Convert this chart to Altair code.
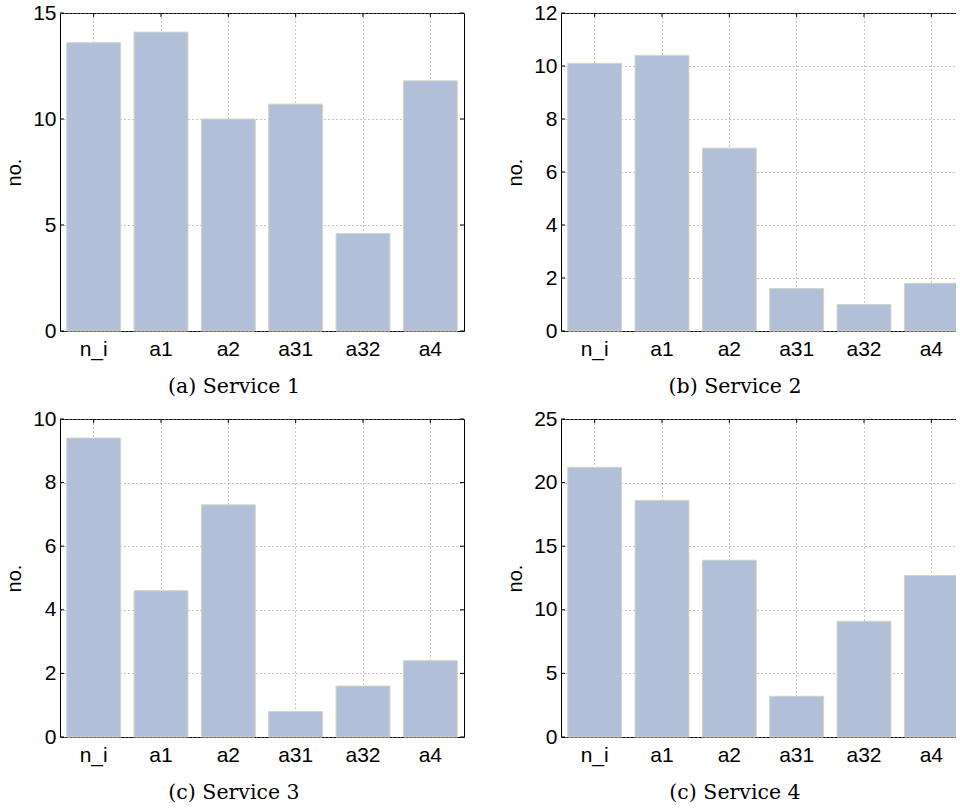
import altair as alt
import pandas as pd

# Categories shared by all four panels
categories = ["n_i", "a1", "a2", "a31", "a32", "a4"]

# Counts per service
service1 = [13.6, 14.1, 10.0, 10.7, 4.6, 11.8]
service2 = [10.1, 10.4, 6.9, 1.6, 1.0, 1.8]
service3 = [9.4, 4.6, 7.3, 0.8, 1.6, 2.4]
service4 = [21.2, 18.6, 13.9, 3.2, 9.1, 12.7]

# Y-axis extents and tick steps per panel
y_max = [15, 12, 10, 25]
y_step = [5, 2, 2, 5]

captions = ["(a) Service 1", "(b) Service 2", "(c) Service 3", "(c) Service 4"]

W, H = 404, 318
TICK = 4
BAR_FILL = "#b1bfd8"
BAR_EDGE = "#d7d4bc"
GRID = "#8c8c8c"
LABEL_FONT = "Liberation Sans"


def panel(values, ymax, ystep, caption):
    df = pd.DataFrame({"cat": categories, "val": values})
    tick_vals = list(range(0, ymax + 1, ystep))
    ticks = pd.DataFrame({"t": tick_vals})

    x_scale = alt.Scale(domain=categories, paddingInner=0.2, paddingOuter=0.1)
    y_scale = alt.Scale(domain=[0, ymax], nice=False, zero=True)

    x_axis = alt.Axis(
        labelAngle=0, grid=True, ticks=False, domain=False,
        labelPadding=7, labelFontSize=21, labelFont=LABEL_FONT,
        labelColor="black", gridDash=[1, 3], gridColor=GRID, gridOpacity=1,
    )
    y_axis = alt.Axis(
        values=tick_vals, grid=True, ticks=False, domain=False,
        labelPadding=4, labelFontSize=21, labelFont=LABEL_FONT,
        labelColor="black", gridDash=[1, 3], gridColor=GRID, gridOpacity=1,
        titleFont=LABEL_FONT, titleFontSize=20, titleFontWeight="normal",
        titleColor="black", titlePadding=8,
    )

    bars = alt.Chart(df).mark_bar(
        fill=BAR_FILL, stroke=BAR_EDGE, strokeWidth=1
    ).encode(
        x=alt.X("cat:N", sort=categories, scale=x_scale, title=None, axis=x_axis),
        y=alt.Y("val:Q", scale=y_scale, title="no.", axis=y_axis),
    )

    # inward-pointing ticks on all four sides of the box
    x_ref = alt.X("cat:N", sort=categories, scale=x_scale, title=None, axis=x_axis)
    y_ref = alt.Y("t:Q", scale=y_scale, title="no.", axis=y_axis)
    top_ticks = alt.Chart(df).mark_rule(color="black", strokeWidth=1).encode(
        x=x_ref, y=alt.value(0), y2=alt.value(TICK)
    )
    bottom_ticks = alt.Chart(df).mark_rule(color="black", strokeWidth=1).encode(
        x=x_ref, y=alt.value(H - TICK), y2=alt.value(H)
    )
    left_ticks = alt.Chart(ticks).mark_rule(color="black", strokeWidth=1).encode(
        y=y_ref, x=alt.value(0), x2=alt.value(TICK)
    )
    right_ticks = alt.Chart(ticks).mark_rule(color="black", strokeWidth=1).encode(
        y=y_ref, x=alt.value(W - TICK), x2=alt.value(W)
    )

    return alt.layer(
        bottom_ticks, bars, top_ticks, left_ticks, right_ticks
    ).properties(
        width=W, height=H,
        title=alt.TitleParams(
            caption, orient="bottom", frame="group", anchor="middle", dx=-28,
            font="DejaVu Serif", fontSize=20.5, fontWeight="normal",
            color="black", offset=18,
        ),
    )


series = [service1, service2, service3, service4]
panels = [panel(s, m, st, c) for s, m, st, c in zip(series, y_max, y_step, captions)]

chart = alt.vconcat(
    alt.hconcat(panels[0], panels[1], spacing=40),
    alt.hconcat(panels[2], panels[3], spacing=40),
    spacing=9,
).properties(
    padding={"left": 4, "top": 1, "right": -10, "bottom": 0},
    background="white",
).configure_view(
    stroke="black", strokeWidth=1
)

chart.save("out.html", embed_options={"renderer": "svg", "actions": False})
